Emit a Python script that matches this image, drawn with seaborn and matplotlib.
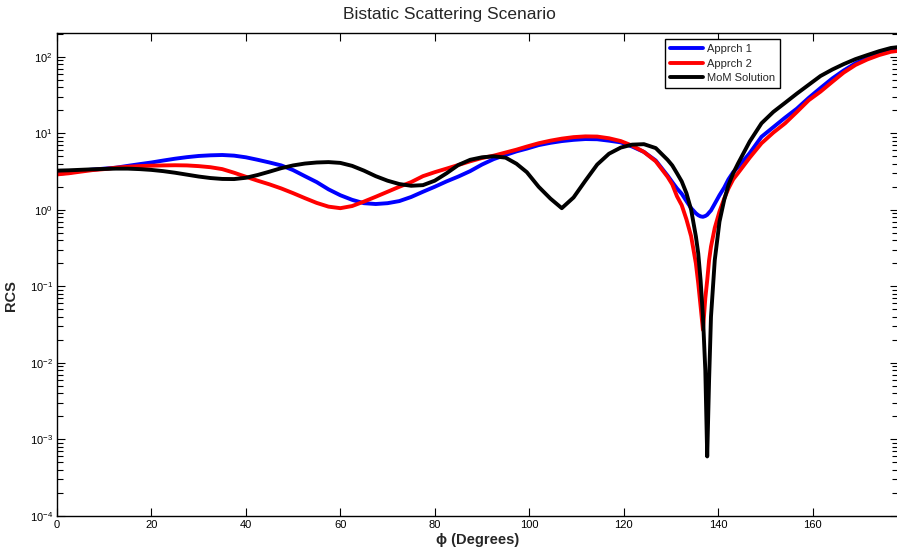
import numpy as np
import pandas as pd
import matplotlib
matplotlib.use("Agg")
import matplotlib.pyplot as plt
from matplotlib.ticker import LogLocator, NullFormatter
import seaborn as sns

# ---------------- data ----------------
phi = [0, 2.5, 5, 7.5, 10, 12.5, 15, 17.5, 20, 22.5, 25, 27.5, 30, 32.5, 35, 37.5,
       40, 42.5, 45, 47.5, 50, 52.5, 55, 57.5, 60, 62.5, 65, 67.5, 70, 72.5, 75, 77.5,
       80, 82.5, 85, 87.5, 90, 92.5, 95, 97.3, 99.5, 102, 104.5, 106.9, 109.4, 111.9, 114.4,
       116.9, 119.4, 121.8, 124.3, 126.8, 129.3, 130.3, 131.3, 132.3, 133.3, 134.3, 135.3, 135.8, 136.3,
       136.8, 137.3, 137.7, 138.1, 138.5, 139.3, 140.3, 141.3, 142.2, 143.2, 144.2, 146.7, 149.2, 151.7,
       154.2, 156.7, 159.2, 161.7, 164.2, 166.6, 169.1, 171.6, 174.1, 176.6, 178]

apprch1 = [2.95, 3.05, 3.25, 3.35, 3.45, 3.55, 3.75, 3.95, 4.15, 4.4, 4.65, 4.87, 5.05, 5.15, 5.2, 5.1,
           4.85, 4.5, 4.15, 3.8, 3.3, 2.75, 2.3, 1.85, 1.55, 1.35, 1.22, 1.19, 1.22, 1.3, 1.47, 1.72,
           2.0, 2.35, 2.72, 3.2, 3.9, 4.6, 5.2, 5.8, 6.3, 7.0, 7.5, 7.9, 8.2, 8.4, 8.35,
           8.0, 7.6, 6.7, 5.7, 4.4, 2.8, 2.3, 1.9, 1.62, 1.3, 1.05, 0.9, 0.85, 0.82,
           0.81, 0.83, 0.86, 0.92, 0.98, 1.2, 1.55, 1.95, 2.5, 3.1, 3.6, 5.5, 9.0, 12.0,
           16.0, 21.0, 29.0, 39.0, 52.0, 66.0, 82.0, 96.0, 109.0, 121.0, 125.0]

apprch2 = [2.9, 3.0, 3.15, 3.3, 3.4, 3.55, 3.65, 3.72, 3.77, 3.8, 3.82, 3.8, 3.72, 3.6, 3.4, 3.05,
           2.7, 2.4, 2.15, 1.9, 1.65, 1.42, 1.23, 1.1, 1.05, 1.12, 1.28, 1.48, 1.72, 2.0, 2.3, 2.75,
           3.1, 3.45, 3.85, 4.3, 4.75, 5.1, 5.6, 6.1, 6.7, 7.4, 8.0, 8.5, 8.9, 9.1, 9.05,
           8.6, 7.9, 6.9, 5.7, 4.3, 2.7, 2.15, 1.5, 1.15, 0.75, 0.45, 0.2, 0.11, 0.055,
           0.027, 0.07, 0.12, 0.22, 0.33, 0.58, 0.95, 1.4, 1.9, 2.5, 3.0, 4.8, 7.4, 10.2,
           13.5, 19.0, 27.0, 35.0, 47.0, 62.0, 78.0, 92.0, 105.0, 116.0, 119.0]

mom = [3.25, 3.28, 3.33, 3.38, 3.42, 3.45, 3.45, 3.4, 3.32, 3.2, 3.05, 2.88, 2.72, 2.6, 2.53, 2.52,
       2.62, 2.85, 3.15, 3.5, 3.8, 4.02, 4.15, 4.2, 4.1, 3.75, 3.25, 2.75, 2.4, 2.17, 2.06, 2.1,
       2.4, 3.0, 3.85, 4.5, 4.85, 5.0, 4.8, 4.0, 3.1, 2.0, 1.4, 1.05, 1.45, 2.4, 3.9,
       5.4, 6.5, 7.1, 7.2, 6.4, 4.5, 3.8, 3.0, 2.35, 1.65, 1.0, 0.45, 0.27, 0.12,
       0.04, 0.008, 0.0006, 0.006, 0.04, 0.22, 0.7, 1.35, 2.1, 3.0, 4.0, 7.8, 13.5, 19.0,
       25.0, 33.0, 43.0, 56.0, 68.0, 80.0, 93.0, 105.0, 118.0, 130.0, 133.0]

series_names = ["Apprch 1", "Apprch 2", "MoM Solution"]
series_colors = ["#0000ff", "#ff0000", "#000000"]

# ---------------- style ----------------
sns.set_style("ticks")
plt.rcParams["font.family"] = ["Liberation Sans", "DejaVu Sans"]
plt.rcParams["mathtext.fontset"] = "custom"
plt.rcParams["mathtext.rm"] = "Liberation Sans"
plt.rcParams["mathtext.it"] = "Liberation Sans:italic"
plt.rcParams["mathtext.bf"] = "Liberation Sans:bold"
plt.rcParams["mathtext.default"] = "regular"
plt.rcParams["xtick.color"] = "black"
plt.rcParams["ytick.color"] = "black"

df = pd.concat([
    pd.DataFrame({"phi": phi, "rcs": vals, "series": name})
    for name, vals in zip(series_names, [apprch1, apprch2, mom])
], ignore_index=True)

fig = plt.figure(figsize=(8.97, 5.54), dpi=100)
ax = fig.add_axes([57 / 897, 1 - 516 / 554, (897.5 - 57) / 897, (516 - 33) / 554])

sns.lineplot(data=df, x="phi", y="rcs", hue="series", hue_order=series_names,
             palette=series_colors, estimator=None, sort=False, linewidth=2.8,
             ax=ax, legend=True)
for ln in ax.get_lines():
    ln.set_solid_joinstyle("round")
    ln.set_solid_capstyle("round")

ax.set_yscale("log")
ax.set_xlim(0, 178)
ax.set_ylim(1e-4, 204)
ax.set_xticks([0, 20, 40, 60, 80, 100, 120, 140, 160])
ax.set_yticks([1e-4, 1e-3, 1e-2, 1e-1, 1e0, 1e1, 1e2])
ax.yaxis.set_minor_locator(LogLocator(base=10, subs=np.arange(2, 10), numticks=40))
ax.yaxis.set_minor_formatter(NullFormatter())

for s in ax.spines.values():
    s.set_visible(True)
    s.set_linewidth(1.0)
    s.set_color("black")

ax.tick_params(axis="both", which="major", direction="in", length=6, width=0.8,
               top=True, right=True, labelsize=8, colors="black", pad=3)
ax.tick_params(axis="y", which="minor", direction="in", length=4, width=0.8,
               left=True, right=True, color="black")
ax.tick_params(axis="x", which="minor", bottom=False, top=False)

fig.text(449.5 / 897, 1 - 14 / 554, "Bistatic Scattering Scenario", fontsize=12.5,
         ha="center", va="center")
ax.set_xlabel("\u03d5 (Degrees)", fontsize=10.5, fontweight="bold", labelpad=2)
ax.set_ylabel("RCS", fontsize=10.5, fontweight="bold")
ax.yaxis.set_label_coords(-0.046, (516 - 296) / 483)

leg = ax.legend(loc="upper right", bbox_to_anchor=((780 - 57) / 840.5, (516 - 39) / 483),
                fontsize=8, frameon=True, fancybox=False, shadow=False, framealpha=1,
                edgecolor="black", handlelength=3.0, borderpad=0.45,
                labelspacing=0.42, handletextpad=0.35, borderaxespad=0)
leg.get_frame().set_linewidth(1.0)
for line in leg.get_lines():
    line.set_linewidth(2.8)

fig.savefig("out.png", dpi=100)
